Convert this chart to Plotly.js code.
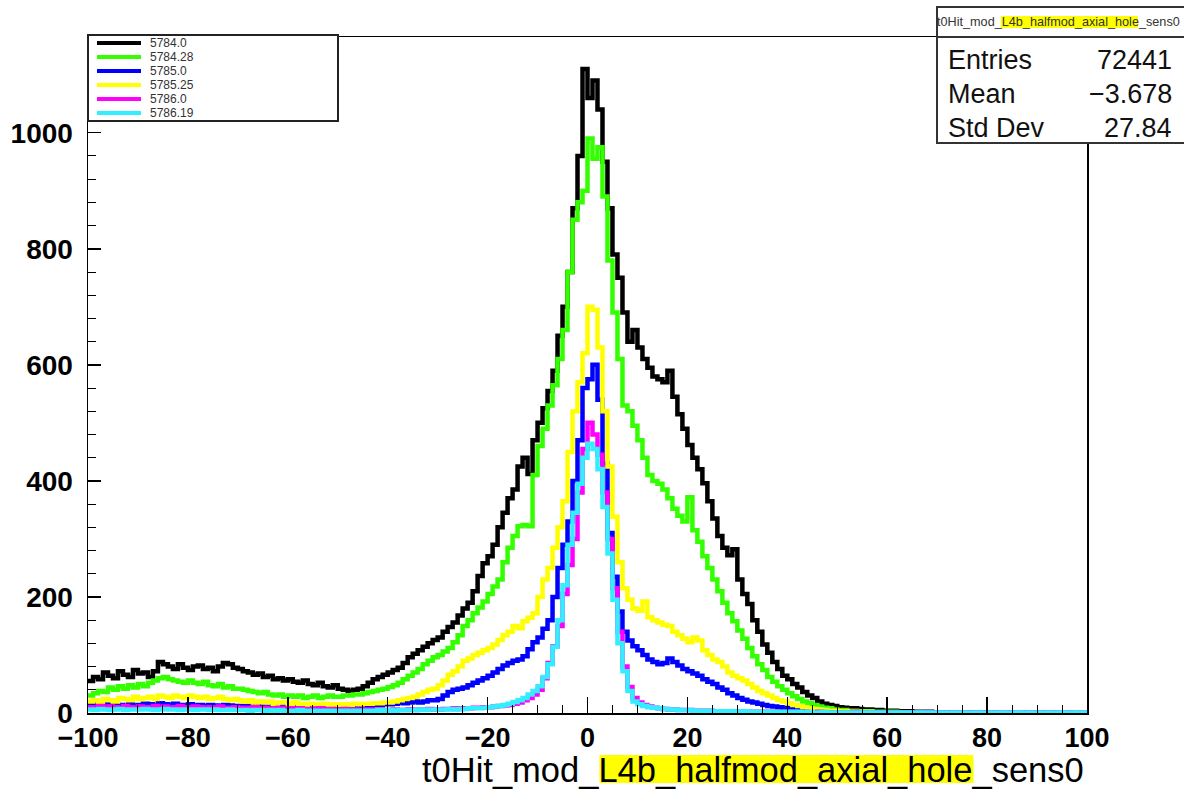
<!DOCTYPE html>
<html><head><meta charset="utf-8">
<script src="https://cdn.plot.ly/plotly-3.0.1.min.js"></script>
<style>html,body{margin:0;padding:0;background:#fff}#chart{width:1184px;height:789px}</style>
</head><body><div id="chart"></div>
<script>
// ---- histogram binning ----
const binLow = -100, binHigh = 100, nBins = 200;

// ---- series names / colours ----
const seriesNames = ["5784.0", "5784.28", "5785.0", "5785.25", "5786.0", "5786.19"];
const seriesColors = ["#000000", "#33ff00", "#0000ff", "#ffff00", "#ff00ff", "#33eeff"];

// ---- bin contents, 200 bins from -100 to 100 ----
const run5784_0 = [
 55,62,58,70,64,60,72,66,62,74,
 68,70,62,72,88,84,80,76,84,78,
 74,80,82,76,78,72,80,86,84,78,
 76,72,70,66,68,62,64,58,60,56,
 58,54,52,56,50,48,52,46,44,48,
 42,40,38,40,42,46,52,58,62,66,
 70,74,78,86,96,102,108,114,120,126,
 130,140,148,156,168,180,190,210,236,258,
 270,290,320,345,370,385,425,440,412,470,
 500,525,555,590,650,700,760,870,960,1110,
 1060,1090,1040,950,870,790,750,690,640,660,
 630,610,595,580,575,570,590,545,515,490,
 462,440,420,396,365,335,305,285,272,282,
 230,205,188,160,140,118,104,88,76,64,
 58,50,44,36,30,26,20,16,14,12,
 10,9,8,8,7,6,6,5,5,4,
 4,4,3,3,3,2,2,2,2,1,
 1,1,1,1,1,1,1,0,1,0,
 0,1,0,0,1,0,0,0,0,0,
 0,0,0,0,0,0,0,0,0,0];
const run5784_28 = [
 30,34,38,36,44,40,46,42,48,44,
 50,46,52,56,60,62,58,56,54,52,
 56,52,50,54,48,46,50,44,46,42,
 42,40,38,36,34,36,32,30,32,28,
 30,28,30,26,28,30,26,28,30,28,
 28,30,30,32,32,34,36,38,40,42,
 45,48,52,58,64,70,76,84,90,96,
 100,106,112,122,134,150,160,172,182,192,
 205,218,230,260,285,305,322,324,322,410,
 460,490,530,565,610,660,760,850,880,900,
 990,955,975,890,780,690,610,530,520,495,
 470,440,410,400,395,385,370,352,340,330,
 372,315,295,270,250,230,210,190,172,158,
 142,128,112,98,84,74,62,54,46,40,
 34,29,24,20,17,14,11,9,8,6,
 5,5,4,4,3,3,3,2,2,2,
 2,2,1,1,1,1,1,1,1,0,
 1,0,1,0,0,1,0,0,0,0,
 0,0,1,0,0,0,0,0,0,0,
 0,0,0,0,0,0,0,0,0,0];
const run5785_0 = [
 14,16,12,15,13,16,14,12,15,13,
 14,16,15,13,17,15,14,16,14,13,
 15,13,14,12,14,13,12,14,13,12,
 12,11,12,10,12,11,10,12,10,11,
 10,11,10,9,10,11,10,9,10,10,
 11,10,12,11,12,13,12,14,14,15,
 15,16,18,17,18,20,18,20,22,22,
 24,30,36,40,42,44,48,52,56,60,
 64,70,76,82,86,90,92,98,110,122,
 130,145,160,200,250,290,330,400,470,560,
 575,600,540,430,310,235,175,140,125,115,
 108,100,92,88,84,86,94,88,82,76,
 72,68,64,58,54,50,44,40,34,30,
 26,23,20,18,16,14,12,11,10,9,
 8,7,6,5,5,4,4,3,3,2,
 2,2,2,1,1,1,1,1,1,1,
 1,1,0,1,0,1,0,0,1,0,
 0,1,0,0,0,0,1,0,0,0,
 0,0,0,0,0,0,0,0,0,0,
 0,0,0,0,0,0,0,0,0,0];
const run5785_25 = [
 20,22,18,24,22,20,26,24,22,28,
 24,26,28,24,30,28,26,30,28,26,
 30,28,26,28,24,26,28,24,22,24,
 22,20,22,18,20,18,20,16,18,18,
 16,18,16,14,16,15,14,16,14,15,
 14,15,14,16,15,16,16,17,17,18,
 18,20,22,24,26,28,32,36,40,42,
 48,56,66,72,80,90,94,100,104,108,
 112,118,126,134,140,150,146,158,164,172,
 200,230,250,285,320,365,450,520,570,620,
 700,695,630,520,425,338,260,215,195,180,
 176,192,165,160,156,152,150,140,134,128,
 122,130,125,108,100,92,88,80,70,64,
 60,56,50,44,38,34,30,26,22,20,
 17,14,12,10,8,7,6,5,4,4,
 3,3,3,2,2,2,2,1,1,1,
 1,1,1,0,1,0,1,0,0,0,
 0,0,0,0,0,0,0,0,0,0,
 0,0,0,0,0,0,0,0,0,0,
 0,0,0,0,0,0,0,0,0,0];
const run5786_0 = [
 10,8,12,9,11,10,8,12,10,9,
 11,10,9,12,10,11,9,10,12,10,
 9,11,10,8,10,9,11,9,8,10,
 9,8,9,10,8,9,7,8,9,8,
 8,7,8,7,6,7,8,6,7,6,
 6,7,6,6,5,6,6,5,6,5,
 5,6,5,5,6,5,6,6,7,6,
 6,7,7,8,7,8,8,9,9,10,
 10,11,12,13,14,16,18,22,26,32,
 40,60,86,115,150,205,255,300,380,455,
 500,480,445,380,300,215,140,80,45,26,
 18,14,11,9,8,7,6,6,5,5,
 5,4,4,4,4,3,3,3,3,3,
 3,2,2,2,2,2,2,2,2,2,
 2,2,1,2,1,1,2,1,1,1,
 1,1,1,2,1,1,1,1,1,1,
 1,1,1,1,0,1,1,1,0,1,
 1,0,1,1,0,1,0,1,1,0,
 1,0,1,0,1,0,0,1,0,1,
 0,1,0,1,0,0,1,0,0,1];
const run5786_19 = [
 6,5,7,6,5,6,7,5,6,6,
 6,7,6,5,6,7,6,6,5,6,
 6,5,6,6,5,6,5,5,6,5,
 5,5,4,5,5,4,5,4,5,4,
 4,4,5,4,4,4,3,4,4,4,
 4,4,3,4,4,4,4,4,5,4,
 5,4,5,5,5,5,6,5,6,6,
 6,6,7,6,7,7,8,8,8,9,
 10,11,12,14,16,19,22,26,32,38,
 46,62,84,114,160,220,290,345,395,440,
 464,455,420,355,275,195,120,72,38,20,
 15,12,10,9,8,7,6,6,5,5,
 5,4,4,4,4,3,3,3,3,3,
 3,3,2,2,2,2,2,2,2,2,
 2,2,2,1,2,1,1,2,1,1,
 1,1,1,1,1,1,1,1,1,1,
 1,1,1,1,1,0,1,1,1,1,
 1,1,0,1,1,1,0,1,1,0,
 1,0,1,1,0,1,1,0,1,0,
 1,0,1,0,1,1,0,1,0,1];

// ---- stats box text ----
const histName = "t0Hit_mod_L4b_halfmod_axial_hole_sens0";
const nameParts = ["t0Hit_mod_", "L4b_halfmod_axial_hole", "_sens0"];
const statLabels = ["Entries", "Mean", "Std Dev"];
const statValues = ["72441", "\u22123.678", "27.84"];

const allSeries = [run5784_0, run5784_28, run5785_0, run5785_25, run5786_0, run5786_19];

// ---- geometry helpers (pixel -> paper) ----
const L = 88, R = 1087, T = 37, B = 713;
const px = p => (p - L) / (R - L);
const py = p => (B - p) / (B - T);
const FONT = "Liberation Sans, Arial, Helvetica, sans-serif";
const ctx = document.createElement('canvas').getContext('2d');
function tw(t, size, weight) { ctx.font = (weight || 'normal') + ' ' + size + 'px "Liberation Sans"'; return ctx.measureText(t).width; }

// ---- traces: step histograms using bin edges ----
const binW = (binHigh - binLow) / nBins;
const traces = allSeries.map((vals, k) => {
  const xs = [], ys = [];
  for (let i = 0; i < vals.length; i++) { xs.push(binLow + i * binW); ys.push(vals[i]); }
  xs.push(binHigh); ys.push(vals[vals.length - 1]);
  return {type: 'scatter', mode: 'lines', x: xs, y: ys, name: seriesNames[k],
    line: {color: seriesColors[k], width: 4.5, shape: 'hv'}, showlegend: false, hoverinfo: 'skip'};
});

const shapes = [], annotations = [];
// legend box
shapes.push({type: 'rect', xref: 'paper', yref: 'paper', x0: px(88), x1: px(338), y0: py(121), y1: py(35),
  fillcolor: '#fff', line: {color: '#222', width: 2}, layer: 'above'});
seriesNames.forEach((n, k) => {
  const yy = 43 + 14 * k;
  shapes.push({type: 'line', xref: 'paper', yref: 'paper', x0: px(97), x1: px(141), y0: py(yy), y1: py(yy),
    line: {color: seriesColors[k], width: 4}, layer: 'above'});
  annotations.push({xref: 'paper', yref: 'paper', x: px(148), y: py(yy), xanchor: 'left', yanchor: 'middle',
    text: n, showarrow: false, font: {family: FONT, size: 12, color: '#333'}});
});

// stats title box + stats box
shapes.push({type: 'rect', xref: 'paper', yref: 'paper', x0: px(937), x1: px(1195), y0: py(37), y1: py(7),
  fillcolor: '#fff', line: {color: '#333', width: 2}, layer: 'above'});
shapes.push({type: 'rect', xref: 'paper', yref: 'paper', x0: px(937), x1: px(1195), y0: py(143), y1: py(37),
  fillcolor: '#fff', line: {color: '#333', width: 2}, layer: 'above'});
// stats title with highlight
{
  const target = 243, base = tw(histName, 100);
  const s = 100 * target / base;
  const x0 = 936;
  const a = tw(nameParts[0], s), b = tw(nameParts[1], s);
  shapes.push({type: 'rect', xref: 'paper', yref: 'paper', x0: px(x0 + a), x1: px(x0 + a + b), y0: py(28), y1: py(16),
    fillcolor: '#ffff00', line: {width: 0}, layer: 'above'});
  annotations.push({xref: 'paper', yref: 'paper', x: px(x0), y: py(22), xanchor: 'left', yanchor: 'middle',
    text: histName, showarrow: false, borderpad: 0, font: {family: FONT, size: s, color: '#333'}});
}
statLabels.forEach((lab, k) => {
  const yy = 60 + 34 * k;
  annotations.push({xref: 'paper', yref: 'paper', x: px(946), y: py(yy), xanchor: 'left', yanchor: 'middle',
    text: lab, showarrow: false, font: {family: FONT, size: 27, color: '#111'}});
  annotations.push({xref: 'paper', yref: 'paper', x: px(1174), y: py(yy), xanchor: 'right', yanchor: 'middle',
    text: statValues[k], showarrow: false, font: {family: FONT, size: 27, color: '#111'}});
});

// x-axis title (right aligned, with highlighted middle part)
{
  const target = 662, base = tw(histName, 100);
  const s = 100 * target / base;
  const right = 1085, left = right - target;
  const a = tw(nameParts[0], s), b = tw(nameParts[1], s);
  shapes.push({type: 'rect', xref: 'paper', yref: 'paper', x0: px(left + a), x1: px(left + a + b), y0: py(783), y1: py(755),
    fillcolor: '#ffff00', line: {width: 0}, layer: 'above'});
  annotations.push({xref: 'paper', yref: 'paper', x: px(right), y: py(770), xanchor: 'right', yanchor: 'middle',
    text: histName, showarrow: false, borderpad: 0, font: {family: FONT, size: s, color: '#000'}});
}

const layout = {
  width: 1184, height: 789,
  margin: {l: L, r: 1184 - R, t: T, b: 789 - B, pad: 0},
  paper_bgcolor: '#fff', plot_bgcolor: '#fff',
  showlegend: false,
  font: {family: FONT, color: '#000'},
  xaxis: {range: [binLow, binHigh], tick0: -100, dtick: 20, ticks: 'inside', ticklen: 16, tickwidth: 1.5, tickcolor: '#000',
    minor: {ticks: 'inside', dtick: 5, ticklen: 8, tickwidth: 1, tickcolor: '#000'},
    showline: true, mirror: true, linecolor: '#000', linewidth: 1.5, showgrid: false, zeroline: false,
    tickfont: {family: FONT, size: 27, weight: 'bold', color: '#000'}, ticklabelstandoff: 0, fixedrange: true},
  yaxis: {range: [0, 1165], tick0: 0, dtick: 200, ticks: 'inside', ticklen: 13, tickwidth: 1.5, tickcolor: '#000',
    minor: {ticks: 'inside', dtick: 40, ticklen: 8, tickwidth: 1, tickcolor: '#000'},
    showline: true, mirror: true, linecolor: '#000', linewidth: 1.5, showgrid: false, zeroline: false,
    tickfont: {family: FONT, size: 28, weight: 'bold', color: '#000'}, ticklabelstandoff: 8, fixedrange: true},
  shapes: shapes,
  annotations: annotations
};

Plotly.newPlot('chart', traces, layout, {displayModeBar: false, staticPlot: true});
</script>
</body></html>
